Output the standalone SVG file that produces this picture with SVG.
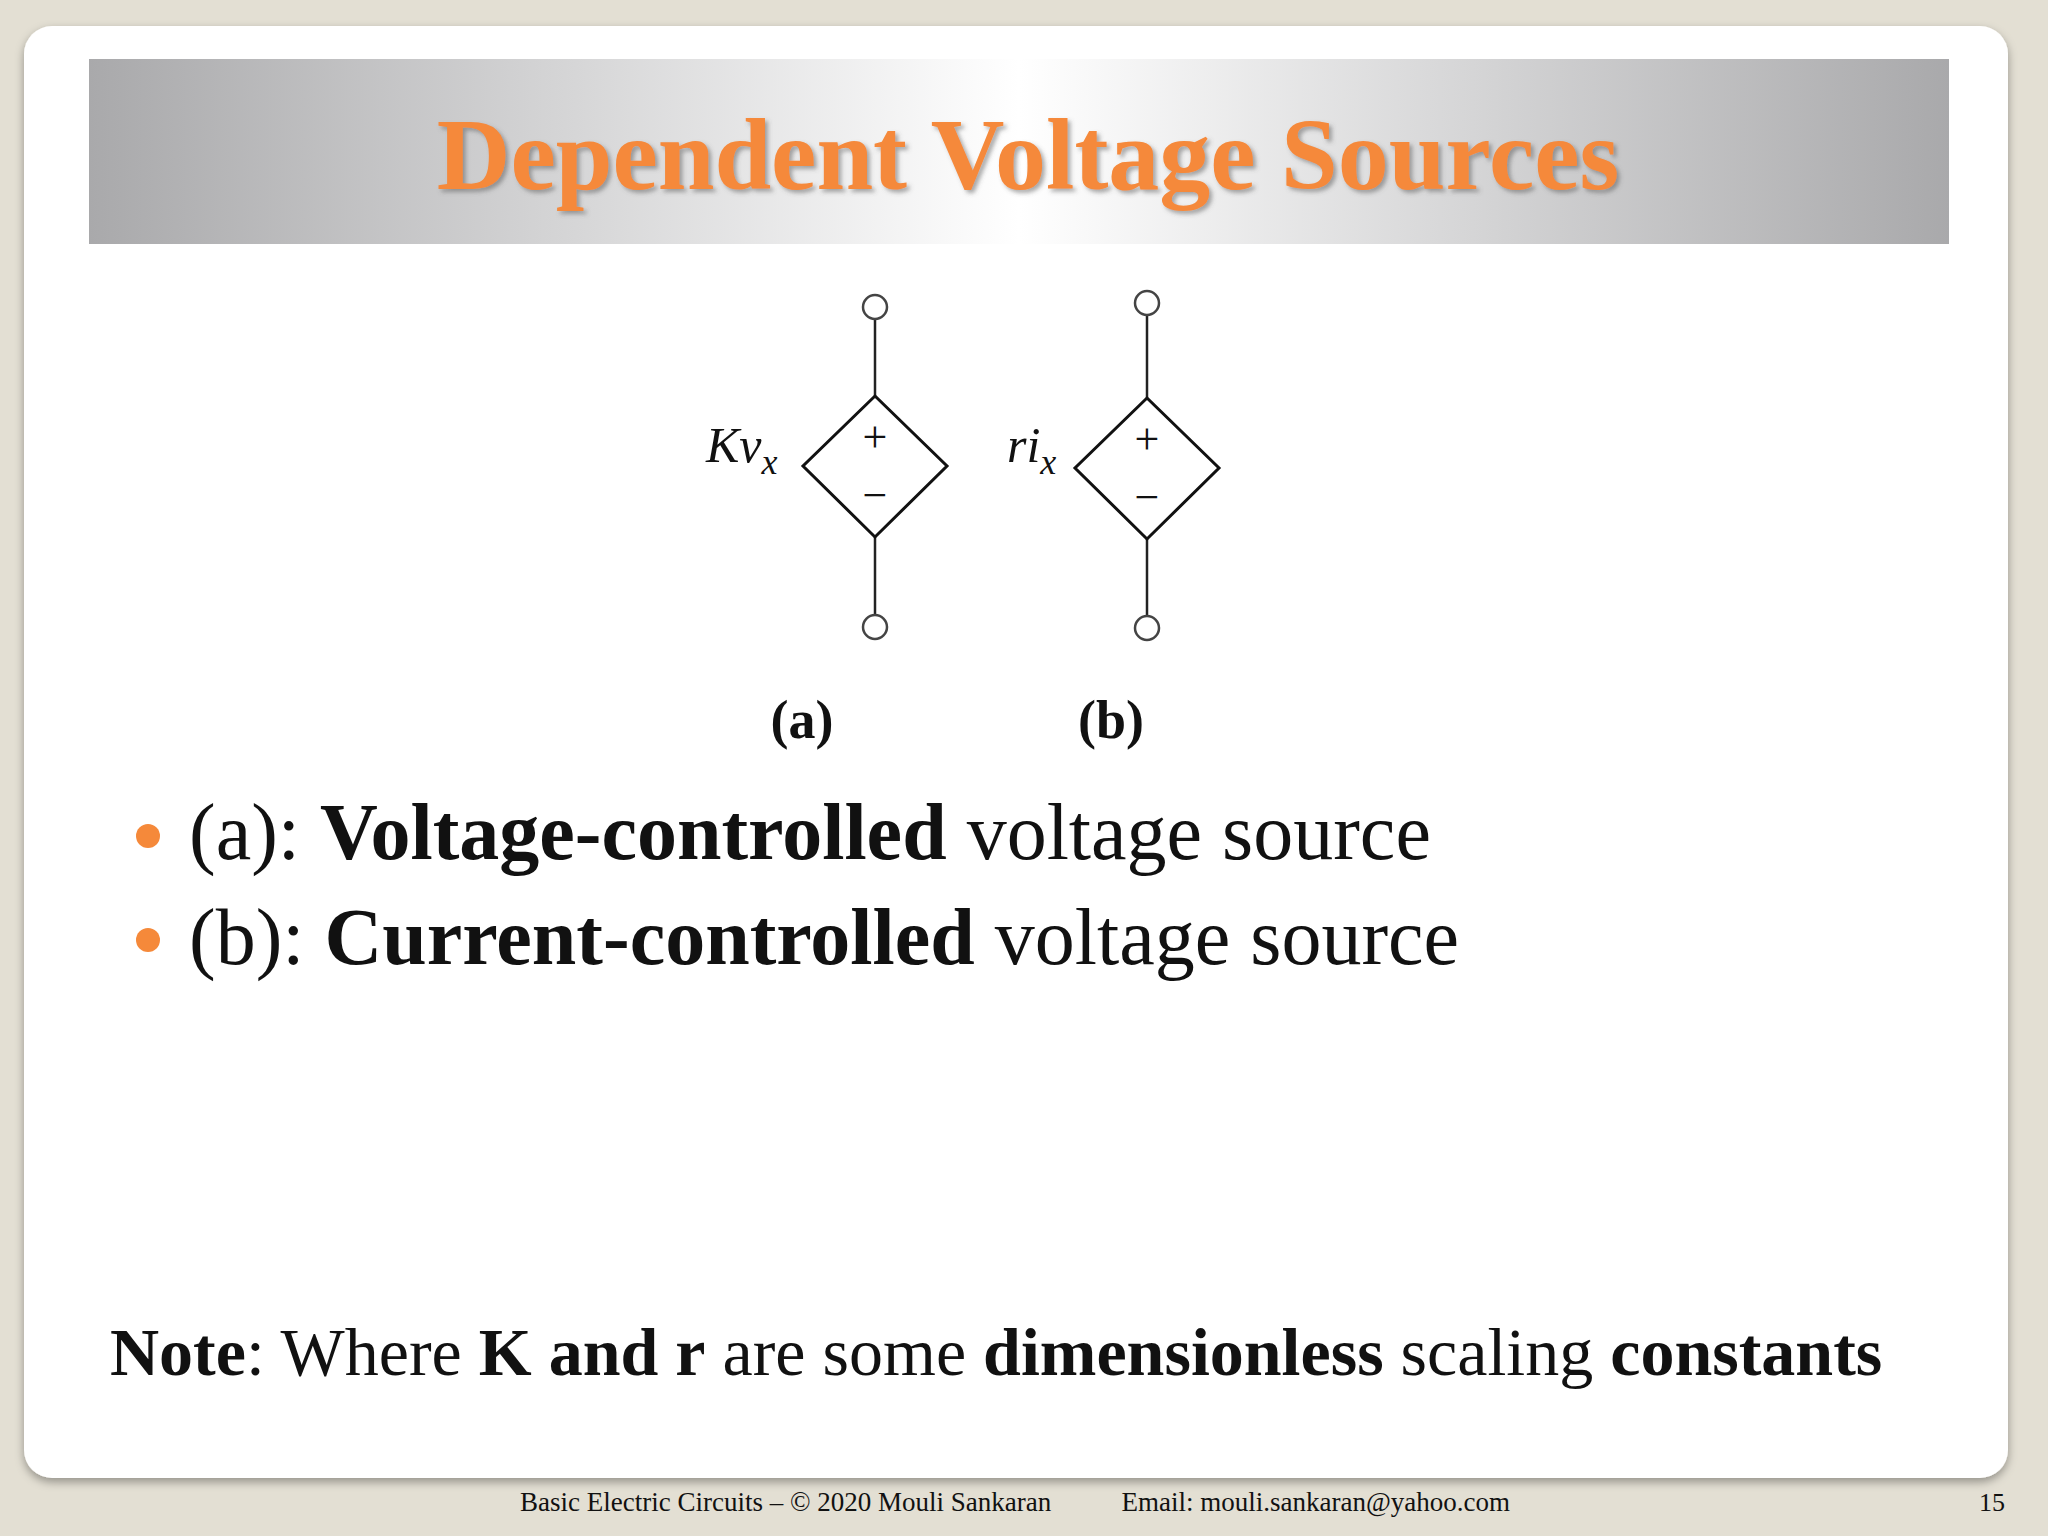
<svg xmlns="http://www.w3.org/2000/svg" width="2048" height="1536" viewBox="0 0 2048 1536">
<defs>
<linearGradient id="band" x1="0" x2="1" y1="0" y2="0">
<stop offset="0" stop-color="#a9a9ab"/><stop offset="0.5" stop-color="#ffffff"/><stop offset="1" stop-color="#a9a9ab"/>
</linearGradient>
<filter id="sh" x="-5%" y="-5%" width="110%" height="115%"><feDropShadow dx="0" dy="4" stdDeviation="5" flood-color="#000" flood-opacity="0.35"/></filter>
<filter id="tsh"><feDropShadow dx="3" dy="3" stdDeviation="2" flood-color="#555" flood-opacity="0.5"/></filter>
</defs>
<style>
.w{stroke:#222;stroke-width:2.5;fill:none}
.t{stroke:#444;stroke-width:2.5;fill:#fff}
.d{stroke:#111;stroke-width:3;fill:#fff}
.s{font-family:"Liberation Serif",serif;fill:#111}
</style>
<rect width="2048" height="1536" fill="#e3dfd3"/>
<rect x="24" y="26" width="1984" height="1452" rx="28" fill="#fff" filter="url(#sh)"/>
<rect x="89" y="59" width="1860" height="185" fill="url(#band)"/>
<text x="1028" y="189" text-anchor="middle" font-family="Liberation Serif,serif" font-weight="bold" font-size="102" fill="#f5893a" filter="url(#tsh)">Dependent Voltage Sources</text>
<g id="source-a">
<line class="w" x1="875" y1="319" x2="875" y2="396"/>
<line class="w" x1="875" y1="537" x2="875" y2="615"/>
<circle class="t" cx="875" cy="307" r="12"/>
<circle class="t" cx="875" cy="627" r="12"/>
<polygon class="d" points="875,396 947,466 875,537 803,466"/>
<text class="s" x="875" y="452" text-anchor="middle" font-size="44">+</text>
<text class="s" x="875" y="510" text-anchor="middle" font-size="44">−</text>
<text class="s" x="706" y="462" font-size="50" font-style="italic">Kv<tspan font-size="36" dy="12">x</tspan></text>
</g>
<g id="source-b">
<line class="w" x1="1147" y1="315" x2="1147" y2="398"/>
<line class="w" x1="1147" y1="539" x2="1147" y2="616"/>
<circle class="t" cx="1147" cy="303" r="12"/>
<circle class="t" cx="1147" cy="628" r="12"/>
<polygon class="d" points="1147,398 1219,468 1147,539 1075,468"/>
<text class="s" x="1147" y="454" text-anchor="middle" font-size="44">+</text>
<text class="s" x="1147" y="512" text-anchor="middle" font-size="44">−</text>
<text class="s" x="1007" y="462" font-size="50" font-style="italic">ri<tspan font-size="36" dy="12">x</tspan></text>
</g>
<text class="s" x="802" y="738" text-anchor="middle" font-size="54" font-weight="bold">(a)</text>
<text class="s" x="1111" y="738" text-anchor="middle" font-size="54" font-weight="bold">(b)</text>
<circle cx="148" cy="836" r="12" fill="#f5893a"/>
<circle cx="148" cy="940" r="12" fill="#f5893a"/>
<text class="s" x="189" y="859" font-size="80">(a): <tspan font-weight="bold">Voltage-controlled</tspan> voltage source</text>
<text class="s" x="189" y="964" font-size="80">(b): <tspan font-weight="bold">Current-controlled</tspan> voltage source</text>
<text class="s" x="110" y="1375" font-size="68"><tspan font-weight="bold">Note</tspan>: Where <tspan font-weight="bold">K and r</tspan> are some <tspan font-weight="bold">dimensionless</tspan> scaling <tspan font-weight="bold">constants</tspan></text>
<text class="s" x="520" y="1511" font-size="27">Basic Electric Circuits – © 2020 Mouli Sankaran</text>
<text class="s" x="1510" y="1511" text-anchor="end" font-size="27">Email: mouli.sankaran@yahoo.com</text>
<text class="s" x="1992" y="1511" text-anchor="middle" font-size="26">15</text>
</svg>
